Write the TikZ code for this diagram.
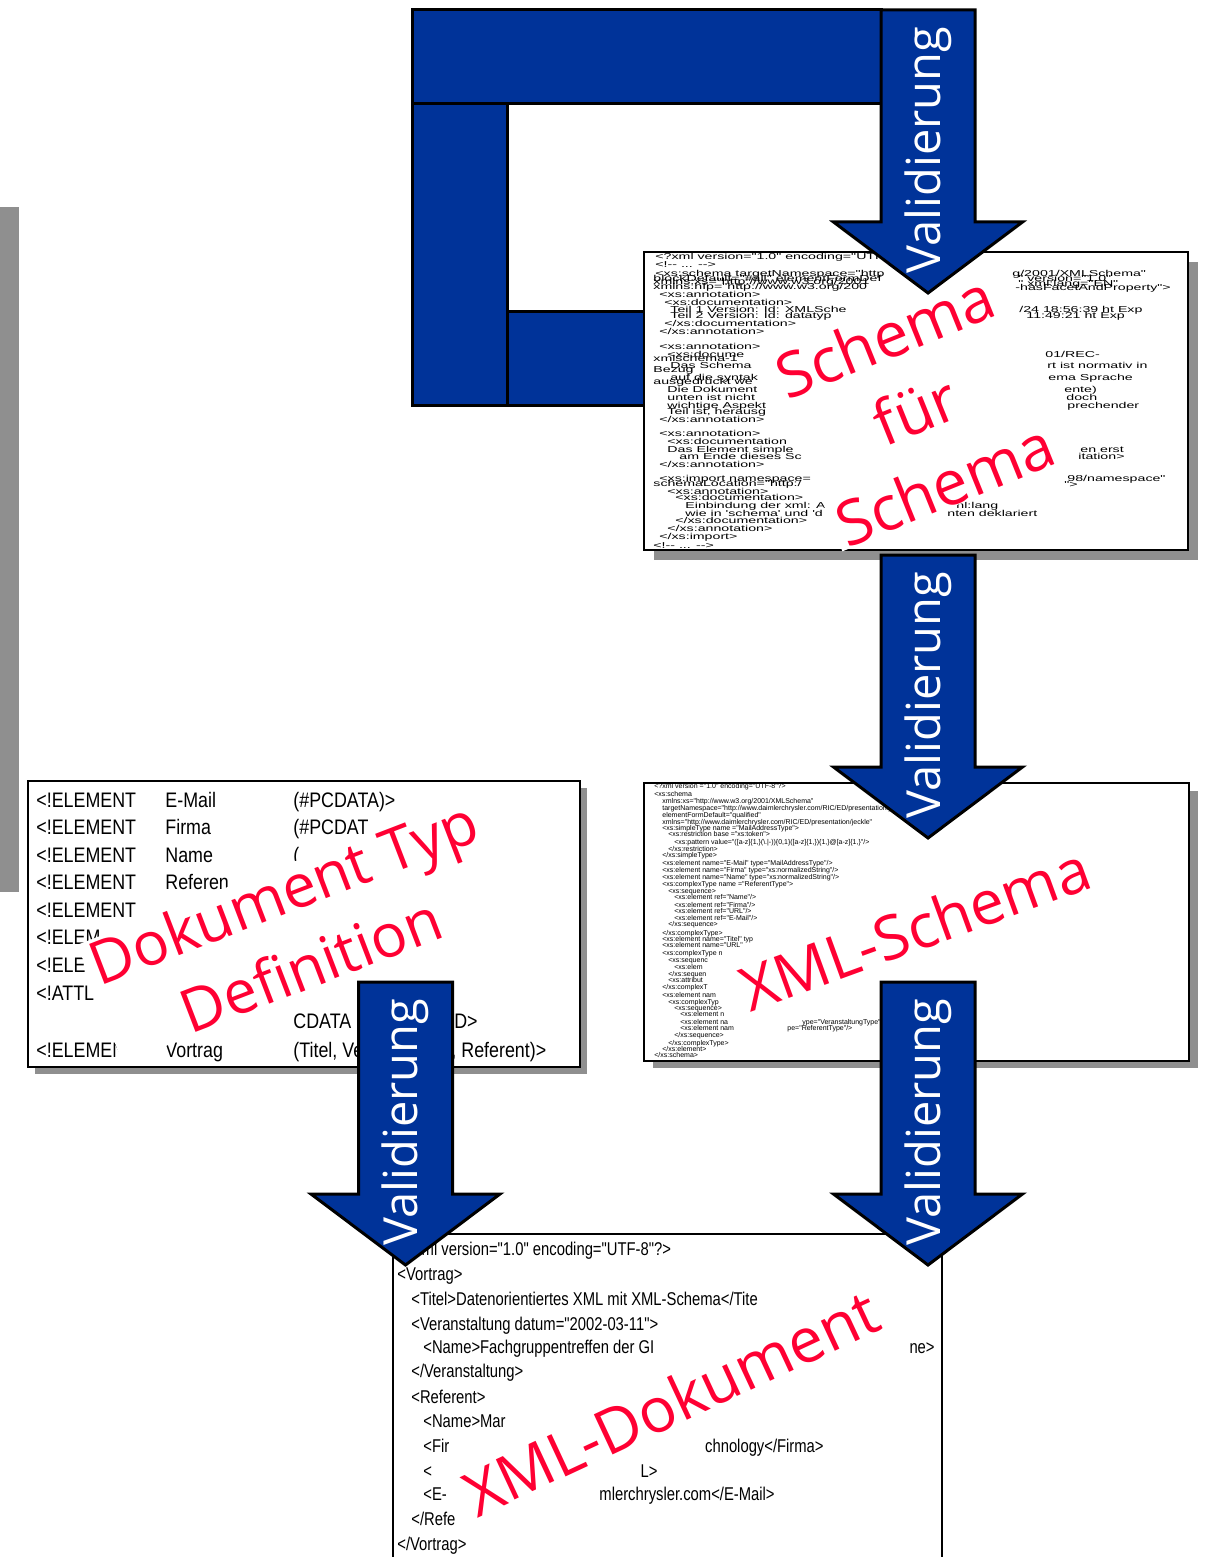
\documentclass[tikz,border=0pt]{standalone}
\usepackage{fontspec}
\setmainfont{Liberation Sans}
\newfontfamily\dtdfont[FakeStretch=0.85]{Liberation Sans}
\newfontfamily\docfont[FakeStretch=0.80]{Liberation Sans}
\newfontfamily\widefont[FakeStretch=1.65]{Liberation Sans}
\newfontfamily\xsdfont{Liberation Sans}
\newfontfamily\lblfont{Open Sans}
\definecolor{xblue}{RGB}{0,51,153}
\definecolor{xred}{RGB}{255,0,51}
\definecolor{xshadow}{RGB}{143,143,143}
\tikzset{
  bluepart/.style={fill=xblue, draw=black, line width=1.5pt},
  arrowbody/.style={fill=xblue, draw=black, line width=1.5pt, line join=miter},
  valtext/.style={rotate=90, text=white, inner sep=0pt, font=\lblfont\fontsize{23.5}{28}\selectfont},
  docbox/.style={fill=white, draw=black, line width=1.2pt},
  shadowbox/.style={fill=xshadow},
  redlbl/.style={text=xred, fill=white, align=center, inner xsep=3pt, inner ysep=4pt},
  sch/.style={anchor=base west, inner sep=0pt, font=\widefont\fontsize{4.3}{5}\selectfont},
  xsd/.style={anchor=base west, inner sep=0pt, font=\xsdfont\fontsize{3.5}{4}\selectfont},
  dtd/.style={anchor=base west, inner sep=0pt, font=\dtdfont\fontsize{10.5}{12}\selectfont},
  doc/.style={anchor=base west, inner sep=0pt, font=\docfont\fontsize{9.25}{11}\selectfont},
  docr/.style={doc, anchor=base east},
  varrow/.pic={
    \draw[arrowbody] (-47,0) -- (47,0) -- (47,212) -- (94.5,212) -- (0,283) -- (-94.5,212) -- (-47,212) -- cycle;
    \node[valtext] (-label) at (0,140) {Validierung};
  }
}
\begin{document}
\begin{tikzpicture}[x=0.5pt,y=-0.5pt]
\useasboundingbox[fill=white] (0,0) rectangle (1204,1557);

% grey bar at the left edge
\fill[shadowbox] (0,207) rectangle (19,892);

% blue loop frame
\draw[bluepart] (412,10) rectangle (881,104);
\draw[bluepart] (412,104) rectangle (507,405);
\draw[bluepart] (507,311) rectangle (680,405);

% ---------- Schema fuer Schema box ----------
\fill[shadowbox] (654,262) rectangle (1198,560);
\draw[docbox] (644,252) rectangle (1188,550);
\node[sch] (s1) at (655,260) {<?xml version="1.0" encoding="UTF-8"?>};
\node[sch] (s2) at (655,267) {<!-{}- ... -{}->};
\node[sch] (s3) at (655,277) {<xs:schema targetNamespace="http};
\node[sch] (s3r) at (1012,277) {g/2001/XMLSchema"};
\node[sch] (s4) at (653,281) {blockDefault="\#all" elementFormDef};
\node[sch] (s4r) at (1018,281) {" version="1.0"};
\node[sch] (s5) at (653,285) {xmlns:xs="http://www.w3.org/2001};
\node[sch] (s5r) at (1018,286) {" xml:lang="EN"};
\node[sch] (s6) at (653,289) {xmlns:hfp="http://www.w3.org/200};
\node[sch] (s6r) at (1015,290) {-hasFacetAndProperty">};
\node[sch] (s7) at (659,297) {<xs:annotation>};
\node[sch] (s8) at (664,305) {<xs:documentation>};
\node[sch] (s9) at (670,312) {Teil 1 Version: Id: XMLSche};
\node[sch] (s9r) at (1019,312) {/24 18:56:39 ht Exp};
\node[sch] (s10) at (670,318) {Teil 2 Version: Id: datatyp};
\node[sch] (s10r) at (1026,318) {11:49:21 ht Exp};
\node[sch] (s11) at (664,326) {</xs:documentation>};
\node[sch] (s12) at (659,334) {</xs:annotation>};
\node[sch] (s13) at (659,349) {<xs:annotation>};
\node[sch] (s14) at (667,357) {<xs:docume};
\node[sch] (s14r) at (1045,357) {01/REC-};
\node[sch] (s15) at (653,361) {xmlschema-1};
\node[sch] (s16) at (670,368) {Das Schema};
\node[sch] (s16r) at (1047,368) {rt ist normativ in};
\node[sch] (s17) at (653,372) {Bezug};
\node[sch] (s18) at (670,380) {auf die syntak};
\node[sch] (s18r) at (1048,380) {ema Sprache};
\node[sch] (s19) at (653,384) {ausgedrückt we};
\node[sch] (s20) at (667,392) {Die Dokument};
\node[sch] (s20r) at (1064,392) {ente)};
\node[sch] (s21) at (667,400) {unten ist nicht};
\node[sch] (s21r) at (1066,400) {doch};
\node[sch] (s22) at (667,408) {wichtige Aspekt};
\node[sch] (s22r) at (1067,408) {prechender};
\node[sch] (s23) at (667,414) {Teil ist, herausg};
\node[sch] (s24) at (659,422) {</xs:annotation>};
\node[sch] (s25) at (659,436) {<xs:annotation>};
\node[sch] (s26) at (667,444) {<xs:documentation};
\node[sch] (s27) at (667,452) {Das Element simple};
\node[sch] (s27r) at (1080,452) {en erst};
\node[sch] (s28) at (679,459) {am Ende dieses Sc};
\node[sch] (s28r) at (1078,459) {itation>};
\node[sch] (s29) at (659,467) {</xs:annotation>};
\node[sch] (s30) at (659,481) {<xs:import namespace=};
\node[sch] (s30r) at (1067,481) {98/namespace"};
\node[sch] (s31) at (653,486) {schemaLocation="http:/};
\node[sch] (s31r) at (1064,487) {">};
\node[sch] (s32) at (667,494) {<xs:annotation>};
\node[sch] (s33) at (675,500) {<xs:documentation>};
\node[sch] (s34) at (685,508) {Einbindung der xml: A};
\node[sch] (s34r) at (956,508) {nl:lang};
\node[sch] (s35) at (685,516) {wie in 'schema' und 'd};
\node[sch] (s35r) at (947,516) {nten deklariert};
\node[sch] (s36) at (675,523) {</xs:documentation>};
\node[sch] (s37) at (667,531) {</xs:annotation>};
\node[sch] (s38) at (659,539) {</xs:import>};
\node[sch] (s39) at (653,548) {<!-{}- ... -{}->};

% ---------- XML-Schema box ----------
\fill[shadowbox] (653,791) rectangle (1198,1068);
\draw[docbox] (644,783) rectangle (1189,1061);
\node[xsd] (x1) at (654,788) {<?xml version ="1.0" encoding="UTF-8"?>};
\node[xsd] (x2) at (654,796) {<xs:schema};
\node[xsd] (x3) at (662,803) {xmlns:xs="http://www.w3.org/2001/XMLSchema"};
\node[xsd] (x4) at (662,810) {targetNamespace="http://www.daimlerchrysler.com/RIC/ED/presentation/jeckle"};
\node[xsd] (x5) at (662,817) {elementFormDefault="qualified"};
\node[xsd] (x6) at (662,824) {xmlns="http://www.daimlerchrysler.com/RIC/ED/presentation/jeckle"};
\node[xsd] (x7) at (662,830) {<xs:simpleType name ="MailAddressType">};
\node[xsd] (x8) at (668,836) {<xs:restriction base ="xs:token">};
\node[xsd] (x9) at (674,844) {<xs:pattern value="([a-z]\{1,\}(\textbackslash.|-))\{0,1\}([a-z]\{1,\})\{1,\}@[a-z]\{1,\}"/>};
\node[xsd] (x10) at (668,851) {</xs:restriction>};
\node[xsd] (x11) at (662,857) {</xs:simpleType>};
\node[xsd] (x12) at (662,865) {<xs:element name="E-Mail" type="MailAddressType"/>};
\node[xsd] (x13) at (662,872) {<xs:element name="Firma" type="xs:normalizedString"/>};
\node[xsd] (x14) at (662,879) {<xs:element name="Name" type="xs:normalizedString"/>};
\node[xsd] (x15) at (662,886) {<xs:complexType name ="ReferentType">};
\node[xsd] (x16) at (668,893) {<xs:sequence>};
\node[xsd] (x17) at (674,899) {<xs:element ref="Name"/>};
\node[xsd] (x18) at (674,907) {<xs:element ref="Firma"/>};
\node[xsd] (x19) at (674,913) {<xs:element ref="URL"/>};
\node[xsd] (x20) at (674,920) {<xs:element ref="E-Mail"/>};
\node[xsd] (x21) at (668,926) {</xs:sequence>};
\node[xsd] (x22) at (662,935) {</xs:complexType>};
\node[xsd] (x23) at (662,941) {<xs:element name="Titel" typ};
\node[xsd] (x24) at (662,947) {<xs:element name="URL"};
\node[xsd] (x25) at (662,955) {<xs:complexType n};
\node[xsd] (x26) at (668,962) {<xs:sequenc};
\node[xsd] (x27) at (674,969) {<xs:elem};
\node[xsd] (x28) at (668,976) {</xs:sequen};
\node[xsd] (x29) at (668,982) {<xs:attribut};
\node[xsd] (x30) at (662,989) {</xs:complexT};
\node[xsd] (x31) at (662,997) {<xs:element nam};
\node[xsd] (x32) at (668,1004) {<xs:complexTyp};
\node[xsd] (x33) at (674,1010) {<xs:sequence>};
\node[xsd] (x34) at (680,1016) {<xs:element n};
\node[xsd] (x35) at (680,1024) {<xs:element na};
\node[xsd] (x35r) at (802,1024) {ype="VeranstaltungType"/>};
\node[xsd] (x36) at (680,1030) {<xs:element nam};
\node[xsd] (x36r) at (787,1030) {pe="ReferentType"/>};
\node[xsd] (x37) at (674,1037) {</xs:sequence>};
\node[xsd] (x38) at (668,1045) {</xs:complexType>};
\node[xsd] (x39) at (662,1051) {</xs:element>};
\node[xsd] (x40) at (654,1057) {</xs:schema>};

% ---------- DTD box ----------
\fill[shadowbox] (35,788) rectangle (587,1074);
\draw[docbox] (28,781) rectangle (580,1067);
\node[dtd] (d1a) at (36,807) {<!ELEMENT};
\node[dtd] (d1b) at (165,807) {E-Mail};
\node[dtd] (d1c) at (293,807) {(\#PCDATA)>};
\node[dtd] (d2a) at (36,834) {<!ELEMENT};
\node[dtd] (d2b) at (165,834) {Firma};
\node[dtd] (d2c) at (293,834) {(\#PCDAT};
\node[dtd] (d3a) at (36,862) {<!ELEMENT};
\node[dtd] (d3b) at (165,862) {Name};
\node[dtd] (d3c) at (293,862) {(};
\node[dtd] (d4a) at (36,889) {<!ELEMENT};
\node[dtd] (d4b) at (165,889) {Referen};
\node[dtd] (d5a) at (36,917) {<!ELEMENT};
\node[dtd] (d6a) at (36,944) {<!ELEM};
\node[dtd] (d7a) at (36,972) {<!ELE};
\node[dtd] (d8a) at (36,1000) {<!ATTL};
\node[dtd] (d9c) at (293,1028) {CDATA};
\node[dtd, anchor=base east] (d9d) at (478,1028) {\#REQUIRED>};
\node[dtd] (d10a) at (36,1057) {<!ELEMENT};
\node[dtd] (d10b) at (165,1057) {Vortrag};
\node[dtd] (d10c) at (293,1057) {(Titel, Veranstaltung, Referent)>};

% ---------- XML document box ----------
\draw[docbox] (393,1234) rectangle (942,1600);
\node[doc] (m1) at (397,1255) {<?xml version="1.0" encoding="UTF-8"?>};
\node[doc] (m2) at (397,1280) {<Vortrag>};
\node[doc] (m3) at (411,1305) {<Titel>Datenorientiertes XML mit XML-Schema</Tite};
\node[doc] (m4) at (411,1330) {<Veranstaltung datum="2002-03-11">};
\node[doc] (m5) at (423,1353) {<Name>Fachgruppentreffen der GI};
\node[docr] (m5r) at (935,1353) {ne>};
\node[doc] (m6) at (411,1377) {</Veranstaltung>};
\node[doc] (m7) at (411,1403) {<Referent>};
\node[doc] (m8) at (423,1427) {<Name>Mar};
\node[doc] (m9) at (423,1452) {<Fir};
\node[docr] (m9r) at (824,1452) {chnology</Firma>};
\node[doc] (m10) at (423,1477) {<};
\node[docr] (m10r) at (658,1477) {L>};
\node[doc] (m11) at (423,1500) {<E-};
\node[docr] (m11r) at (775,1500) {mlerchrysler.com</E-Mail>};
\node[doc] (m12) at (411,1525) {</Refe};
\node[doc] (m13) at (397,1550) {</Vortrag>};

% ---------- red labels (white text boxes) ----------
\node[redlbl, rotate=22, inner ysep=0pt, font=\lblfont\fontsize{31}{40}\selectfont] (lss) at (915,410) {Schema\\für\\Schema};
\node[redlbl, rotate=21, inner ysep=0.5pt, font=\lblfont\fontsize{30}{39}\selectfont] (ldtd) at (297,928) {Dokument Typ\\Definition};
\node[redlbl, rotate=20, font=\lblfont\fontsize{30.5}{36}\selectfont] (lxsd) at (915,928) {XML-Schema};
\node[redlbl, rotate=25, font=\lblfont\fontsize{31}{36}\selectfont] (ldoc) at (671,1402) {XML-Dokument};

% ---------- validation arrows ----------
\pic (a1) at (928,10) {varrow};
\pic (a2) at (928,555) {varrow};
\pic (a3) at (405.5,982) {varrow};
\pic (a4) at (928,982) {varrow};
\end{tikzpicture}
\end{document}
